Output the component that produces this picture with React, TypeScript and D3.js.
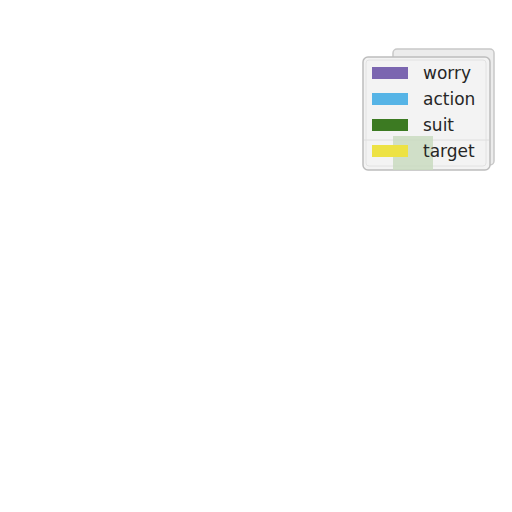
import React, { useEffect, useRef } from 'react';
import * as d3 from 'd3';

const categories = ['worry', 'action', 'suit', 'target'];
const colors = ['#7b66b0', '#56b4e6', '#3c7a22', '#ede244'];

const App: React.FC = () => {
  const svgRef = useRef<SVGSVGElement>(null);

  useEffect(() => {
    if (!svgRef.current) return;
    const svg = d3.select(svgRef.current);
    svg.selectAll('*').remove();

    const color = d3.scaleOrdinal<string, string>().domain(categories).range(colors);

    // legend rows
    const row = d3.scaleBand<string>()
      .domain(categories)
      .range([60, 164])
      .paddingInner(0);

    svg.append('rect')
      .attr('width', 512).attr('height', 512).attr('fill', '#ffffff');

    // back frame, slightly offset
    svg.append('rect')
      .attr('x', 393).attr('y', 49).attr('width', 101).attr('height', 116)
      .attr('rx', 4)
      .attr('fill', '#ececec').attr('stroke', '#c8c8c8').attr('stroke-width', 1.5);

    const g = svg.append('g');

    g.append('rect')
      .attr('x', 363).attr('y', 57).attr('width', 127).attr('height', 113)
      .attr('rx', 5)
      .attr('fill', '#f3f3f3').attr('stroke', '#bdbdbd').attr('stroke-width', 1.5);

    g.append('rect')
      .attr('x', 366).attr('y', 60).attr('width', 120).attr('height', 106)
      .attr('rx', 3)
      .attr('fill', 'none').attr('stroke', '#e2e2e2').attr('stroke-width', 1);

    g.append('line')
      .attr('x1', 364).attr('x2', 489).attr('y1', 140).attr('y2', 140)
      .attr('stroke', '#dedede').attr('stroke-width', 1);

    g.append('rect')
      .attr('x', 393).attr('y', 136).attr('width', 40).attr('height', 34)
      .attr('fill', '#c9dac0').attr('opacity', 0.85);

    const items = g.selectAll('g.item')
      .data(categories)
      .join('g')
      .attr('class', 'item')
      .attr('transform', d => `translate(0,${row(d)})`);

    items.append('rect')
      .attr('x', 372).attr('y', 7)
      .attr('width', 36).attr('height', 12)
      .attr('fill', d => color(d));

    items.append('text')
      .attr('x', 423).attr('y', 19)
      .attr('fill', '#262626')
      .style('font-family', 'DejaVu Sans, sans-serif')
      .style('font-size', '17px')
      .text(d => d);
  }, []);

  return (
    <svg
      ref={svgRef}
      width={512}
      height={512}
      style={{ position: 'fixed', left: 0, top: 0, display: 'block' }}
    />
  );
};

export default App;
